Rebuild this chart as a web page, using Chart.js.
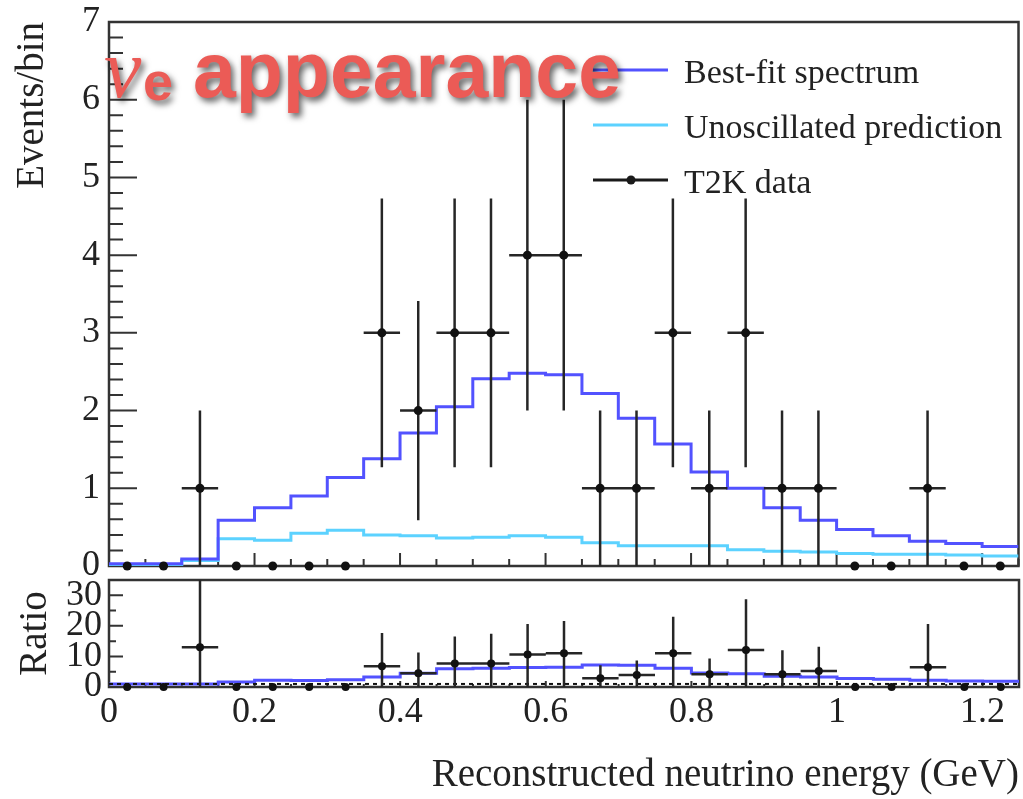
<!DOCTYPE html>
<html>
<head>
<meta charset="utf-8">
<script src="https://cdn.jsdelivr.net/npm/chart.js@4.4.1/dist/chart.umd.min.js"></script>
<style>
  html, body { margin: 0; padding: 0; background: #ffffff; }
  #spectrumBox { position: absolute; left: 0; top: 0; width: 1023px; height: 600px; }
  #ratioBox { position: absolute; left: 0; top: 560px; width: 1023px; height: 239px; }
</style>
</head>
<body>
<div id="spectrumBox"><canvas id="spectrum"></canvas></div>
<div id="ratioBox"><canvas id="ratio"></canvas></div>
<script>
// Reconstructed-energy bins (GeV), 0.05 GeV wide
const binCenters = [0.025, 0.075, 0.125, 0.175, 0.225, 0.275, 0.325, 0.375, 0.425, 0.475,
                    0.525, 0.575, 0.625, 0.675, 0.725, 0.775, 0.825, 0.875, 0.925, 0.975,
                    1.025, 1.075, 1.125, 1.175, 1.225];
const binHalfWidth = 0.025;

// Expected events per bin
const bestFit      = [0.03, 0.03, 0.09, 0.59, 0.75, 0.90, 1.14, 1.38, 1.71, 2.05,
                      2.41, 2.48, 2.46, 2.22, 1.90, 1.57, 1.21, 1.00, 0.75, 0.59,
                      0.47, 0.39, 0.32, 0.29, 0.25];
const unoscillated = [0.02, 0.02, 0.07, 0.35, 0.33, 0.42, 0.46, 0.40, 0.39, 0.36,
                      0.37, 0.39, 0.37, 0.30, 0.26, 0.26, 0.26, 0.21, 0.19, 0.18,
                      0.16, 0.15, 0.15, 0.14, 0.13];

// Observed events and their errors
const t2kData     = [0, 0, 1, 0, 0, 0, 0, 3, 2, 3, 3, 4, 4, 1, 1, 3, 1, 3, 1, 1, 0, 0, 1, 0, 0];
const dataErrDown = [0, 0, 1, 0, 0, 0, 0, 1.73, 1.41, 1.73, 1.73, 2, 2, 1, 1, 1.73, 1, 1.73, 1, 1, 0, 0, 1, 0, 0];
const dataErrUp   = [0, 0, 1, 0, 0, 0, 0, 1.73, 1.41, 1.73, 1.73, 2, 2, 1, 1, 1.73, 1, 1.73, 1, 1, 0, 0, 1, 0, 0];

// Ratio to the unoscillated prediction
const ratioData     = [0, 0, 13, 0, 0, 0, 0, 6.8, 4.5, 7.7, 7.7, 10.6, 11, 2.9, 3.9, 11, 4.2, 12.1, 4.2, 5.2, 0, 0, 6.5, 0, 0];
const ratioErrDown  = [0, 0, 13, 0, 0, 0, 0, 6.8, 4.5, 7.7, 7.7, 10.6, 11, 2.9, 3.9, 11, 4.2, 12.1, 4.2, 5.2, 0, 0, 6.5, 0, 0];
const ratioErrUp    = [0, 0, 27, 0, 0, 0, 0, 10.9, 6.8, 8.8, 9.7, 10, 10.6, 4.2, 4.8, 12, 5.1, 16.6, 7.8, 8, 0, 0, 14.1, 0, 0];
const ratioBestFit  = [1, 1, 1, 1.6, 2.2, 2.1, 2.4, 3.3, 4.5, 6.0, 6.1, 6.4, 6.5, 7.2, 7.1, 6.1, 4.6, 4.3, 3.5, 3.3,
                       2.8, 2.5, 2.2, 2.0, 1.9];
const ratioUnity    = 1;

// Axis tick labels
const xTicks        = [0, 0.2, 0.4, 0.6, 0.8, 1, 1.2];
const spectrumTicks = [0, 1, 2, 3, 4, 5, 6, 7];
const ratioTicks    = [0, 10, 20, 30];

const X_MIN = 0, X_MAX = 1.25;
const SERIF = '"Liberation Serif", "Times New Roman", serif';
const SANS = '"Liberation Sans", Arial, sans-serif';
const INK = '#222222';
const BLUE = '#5252ff';
const CYAN = '#5cd2ff';

// Histogram outline: one point per left bin edge plus the closing edge
function stepPoints(values) {
  const pts = values.map((v, i) => ({ x: binCenters[i] - binHalfWidth, y: v }));
  const last = values.length - 1;
  pts.push({ x: binCenters[last] + binHalfWidth, y: values[last] });
  return pts;
}

// Error-bar crosses, separated by null gaps so each bar is its own segment
function errorBarPoints(values, down, up) {
  const pts = [];
  values.forEach((v, i) => {
    if (v === 0) return;
    const c = binCenters[i];
    pts.push({ x: c, y: v - down[i] }, { x: c, y: v + up[i] }, { x: c, y: null });
    pts.push({ x: c - binHalfWidth, y: v }, { x: c + binHalfWidth, y: v }, { x: c + binHalfWidth, y: null });
  });
  return pts;
}

function markerPoints(values) {
  return values.map((v, i) => ({ x: binCenters[i], y: v }));
}

// Keep the plot box exactly where the layout padding puts it
function fixedWidth(w) {
  return function (s) { s.width = w; s.paddingTop = 0; s.paddingBottom = 0; };
}
function fixedHeight(h) {
  return function (s) { s.height = h; s.paddingLeft = 0; s.paddingRight = 0; };
}

// Boxed frame with inward-pointing major/minor ticks
function framePlugin(spec) {
  return {
    id: 'frameTicks',
    beforeDatasetsDraw(chart) {
      const { ctx, chartArea: a, scales } = chart;
      const xs = scales.x, ys = scales.y;
      ctx.save();
      ctx.strokeStyle = '#333333';
      ctx.lineWidth = 2;
      ctx.beginPath();
      for (let k = 0; k <= spec.xCount; k++) {
        const v = k * spec.xStep;
        if (v > X_MAX + 1e-9) break;
        const px = xs.getPixelForValue(v);
        const len = (k % spec.xMajorEvery === 0) ? spec.xMajorLen : spec.xMinorLen;
        ctx.moveTo(px, a.bottom);
        ctx.lineTo(px, a.bottom - len);
      }
      for (let k = 0; k <= spec.yCount; k++) {
        const v = k * spec.yStep;
        const py = ys.getPixelForValue(v);
        const len = (k % spec.yMajorEvery === 0) ? spec.yMajorLen : spec.yMinorLen;
        ctx.moveTo(a.left, py);
        ctx.lineTo(a.left + len, py);
      }
      ctx.stroke();
      ctx.lineWidth = 2.5;
      ctx.strokeRect(a.left, a.top, a.right - a.left, a.bottom - a.top);
      ctx.restore();
    }
  };
}

// Legend entries and the panel heading
const annotationPlugin = {
  id: 'legendAndHeading',
  afterDraw(chart) {
    const ctx = chart.ctx;
    ctx.save();
    const entries = [
      { label: 'Best-fit spectrum', color: BLUE, y: 70, dot: false },
      { label: 'Unoscillated prediction', color: CYAN, y: 125, dot: false },
      { label: 'T2K data', color: '#1a1a1a', y: 180, dot: true }
    ];
    entries.forEach(e => {
      ctx.strokeStyle = e.color;
      ctx.lineWidth = 3;
      ctx.beginPath();
      ctx.moveTo(593, e.y);
      ctx.lineTo(668, e.y);
      ctx.stroke();
      if (e.dot) {
        ctx.fillStyle = e.color;
        ctx.beginPath();
        ctx.arc(631, e.y, 4.5, 0, Math.PI * 2);
        ctx.fill();
      }
      ctx.fillStyle = INK;
      ctx.font = '34px ' + SERIF;
      ctx.textBaseline = 'middle';
      ctx.textAlign = 'left';
      ctx.fillText(e.label, 684, e.y + 4);
    });

    ctx.shadowColor = 'rgba(0,0,0,0.6)';
    ctx.shadowBlur = 6;
    ctx.shadowOffsetX = 3;
    ctx.shadowOffsetY = 4;
    ctx.fillStyle = '#eb5b56';
    ctx.textBaseline = 'alphabetic';
    ctx.font = 'italic 84px ' + SERIF;
    ctx.fillText('\u03BD', 104, 97);
    ctx.font = 'bold 54px ' + SANS;
    ctx.fillText('e', 143, 100);
    ctx.font = 'bold 77px ' + SANS;
    ctx.fillText('appearance', 193, 97);
    ctx.restore();
  }
};

const tickFont = { family: SERIF, size: 36 };
const titleFont = { family: SERIF, size: 39 };

new Chart(document.getElementById('spectrum'), {
  type: 'line',
  data: {
    datasets: [
      { data: markerPoints(t2kData), showLine: false, pointRadius: 4.5, pointBackgroundColor: '#111111',
        pointBorderWidth: 0, clip: false },
      { data: errorBarPoints(t2kData, dataErrDown, dataErrUp), borderColor: '#262626', borderWidth: 2.5,
        pointRadius: 0, spanGaps: false },
      { data: stepPoints(bestFit), stepped: true, borderColor: BLUE, borderWidth: 3, pointRadius: 0 },
      { data: stepPoints(unoscillated), stepped: true, borderColor: CYAN, borderWidth: 3, pointRadius: 0 }
    ]
  },
  options: {
    responsive: true,
    maintainAspectRatio: false,
    animation: false,
    devicePixelRatio: 1,
    layout: { padding: { top: 22, right: 4, bottom: 34, left: 0 } },
    plugins: { legend: { display: false }, tooltip: { enabled: false } },
    scales: {
      x: {
        type: 'linear', min: X_MIN, max: X_MAX,
        ticks: { display: false },
        grid: { display: false, drawTicks: false },
        border: { display: false },
        afterFit: fixedHeight(0)
      },
      y: {
        type: 'linear', min: 0, max: 7,
        afterBuildTicks(s) { s.ticks = spectrumTicks.map(v => ({ value: v })); },
        ticks: { font: tickFont, color: INK, padding: 9, autoSkip: false, callback: v => String(v) },
        grid: { display: false, drawTicks: false },
        border: { display: false },
        title: { display: true, text: 'Events/bin', align: 'end', font: titleFont, color: INK,
                 padding: { top: 9, bottom: 0 } },
        afterFit: fixedWidth(109)
      }
    }
  },
  plugins: [
    framePlugin({ xStep: 0.05, xCount: 25, xMajorEvery: 4, xMajorLen: 13, xMinorLen: 7,
                  yStep: 0.2, yCount: 35, yMajorEvery: 5, yMajorLen: 28, yMinorLen: 14 }),
    annotationPlugin
  ]
});

new Chart(document.getElementById('ratio'), {
  type: 'line',
  data: {
    datasets: [
      { data: markerPoints(ratioData), showLine: false, pointRadius: 4, pointBackgroundColor: '#111111',
        pointBorderWidth: 0, clip: false },
      { data: errorBarPoints(ratioData, ratioErrDown, ratioErrUp), borderColor: '#262626', borderWidth: 2.5,
        pointRadius: 0, spanGaps: false },
      { data: [{ x: X_MIN, y: ratioUnity }, { x: X_MAX, y: ratioUnity }], borderColor: '#111111',
        borderWidth: 2, borderDash: [4, 4], pointRadius: 0 },
      { data: stepPoints(ratioBestFit), stepped: true, borderColor: BLUE, borderWidth: 3, pointRadius: 0 }
    ]
  },
  options: {
    responsive: true,
    maintainAspectRatio: false,
    animation: false,
    devicePixelRatio: 1,
    layout: { padding: { top: 20, right: 4, bottom: 0, left: 0 } },
    plugins: { legend: { display: false }, tooltip: { enabled: false } },
    scales: {
      x: {
        type: 'linear', min: X_MIN, max: X_MAX,
        afterBuildTicks(s) { s.ticks = xTicks.map(v => ({ value: v })); },
        ticks: { font: tickFont, color: INK, padding: 4, autoSkip: false, maxRotation: 0,
                 callback: v => String(v) },
        grid: { display: false, drawTicks: false },
        border: { display: false },
        title: { display: true, text: 'Reconstructed neutrino energy (GeV)', align: 'end',
                 font: titleFont, color: INK, padding: { top: 0, bottom: 0 } },
        afterFit: fixedHeight(112)
      },
      y: {
        type: 'linear', min: 0, max: 35,
        afterBuildTicks(s) { s.ticks = ratioTicks.map(v => ({ value: v })); },
        ticks: { font: tickFont, color: INK, padding: 7, autoSkip: false, callback: v => String(v) },
        grid: { display: false, drawTicks: false },
        border: { display: false },
        title: { display: true, text: 'Ratio', align: 'center', font: titleFont, color: INK,
                 padding: { top: 12, bottom: 0 } },
        afterFit: fixedWidth(109)
      }
    }
  },
  plugins: [
    framePlugin({ xStep: 0.05, xCount: 25, xMajorEvery: 4, xMajorLen: 6, xMinorLen: 3,
                  yStep: 5, yCount: 7, yMajorEvery: 2, yMajorLen: 14, yMinorLen: 7 })
  ]
});
</script>
</body>
</html>
